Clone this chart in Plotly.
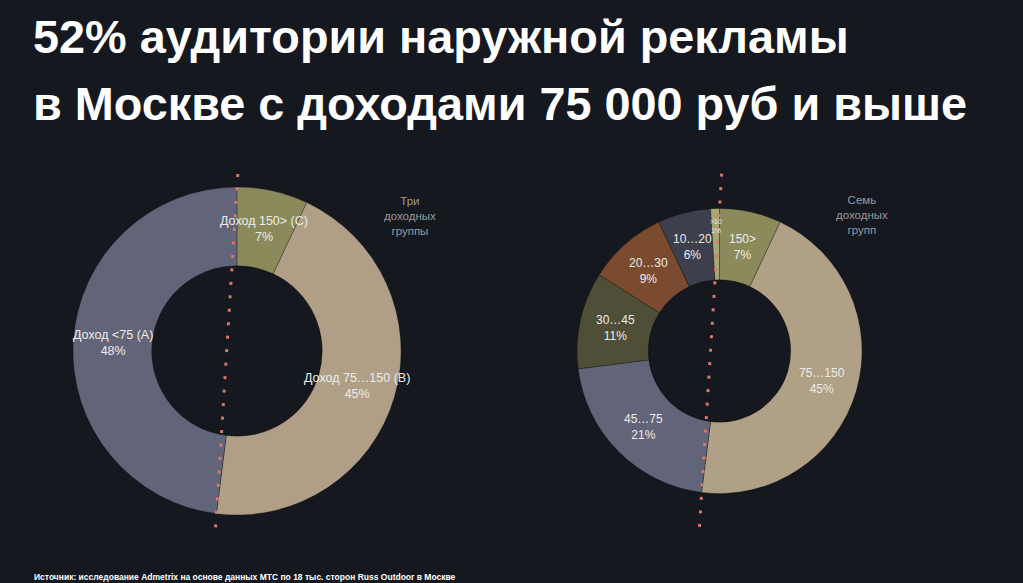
import math
import plotly.graph_objects as go

W, H = 1023, 583
BG = "#15181f"

title_lines = ["52% аудитории наружной рекламы", "в Москве с доходами 75 000 руб и выше"]
source_text = "Источник: исследование Admetrix на основе данных МТС по 18 тыс. сторон Russ Outdoor в Москве"

left_labels = ["Доход 150> (C)", "Доход 75…150 (B)", "Доход <75 (A)"]
left_values = [7, 45, 48]
left_colors = ["#8a8a5b", "#b09f86", "#626479"]
left_note = "Три<br>доходных<br>группы"

right_labels = ["150>", "75…150", "45…75", "30…45", "20…30", "10…20", ">10"]
right_values = [7, 45, 21, 11, 9, 6, 1]
right_colors = ["#8b8a5b", "#afa086", "#626479", "#4e4f36", "#7b4b2f", "#3d3f4d", "#a8a673"]
right_note = "Семь<br>доходных<br>групп"

# geometry (pixels)
LC, LR, LHOLE = (237, 351), 164, 0.52
RC, RR, RHOLE = (719.5, 351), 142.5, 0.50
FONT = "Liberation Sans, Arial"
TXT = "#ececec"


def px(x):
    return x / W


def py(y):
    return 1 - y / H


def domain(c, r):
    return dict(x=[px(c[0] - r), px(c[0] + r)], y=[py(c[1] + r), py(c[1] - r)])


fig = go.Figure()

for labels, values, colors, c, r, hole in [
    (left_labels, left_values, left_colors, LC, LR, LHOLE),
    (right_labels, right_values, right_colors, RC, RR, RHOLE),
]:
    fig.add_trace(go.Pie(
        labels=labels, values=values, hole=hole, sort=False,
        direction="clockwise", rotation=0, domain=domain(c, r),
        marker=dict(colors=colors, line=dict(color="rgba(0,0,0,0.25)", width=1)),
        textinfo="none", showlegend=False, hoverinfo="label+percent",
    ))

annotations = []


def slice_labels(labels, values, c, r, hole, size, small_size):
    tot = sum(values)
    cum = 0
    out = []
    for lab, v in zip(labels, values):
        mid = (cum + v / 2) / tot * 2 * math.pi
        cum += v
        pct = v / tot * 100
        small = pct < 3
        rm = r * (0.88 if small else (1 + hole) / 2)
        cx = c[0] + rm * math.sin(mid)
        cy = c[1] - rm * math.cos(mid)
        fs = small_size if small else size
        out.append(dict(
            x=px(cx), y=py(cy), xref="paper", yref="paper", showarrow=False,
            text=f"{lab}<br>{round(pct)}%", align="center",
            font=dict(family=FONT, size=fs, color=TXT),
            xanchor="center", yanchor="middle",
        ))
    return out


annotations += slice_labels(left_labels, left_values, LC, LR, LHOLE, 12.5, 7)
annotations += slice_labels(right_labels, right_values, RC, RR, RHOLE, 12, 7)

# titles
for txt, yc in zip(title_lines, [37, 104]):
    annotations.append(dict(x=px(30.5), y=py(yc), xref="paper", yref="paper", showarrow=False,
                            text=txt, xanchor="left", yanchor="middle",
                            font=dict(family=FONT, size=46.8, color="white", weight="bold")))

annotations.append(dict(x=px(410), y=py(216), xref="paper", yref="paper", showarrow=False,
                        text=left_note, xanchor="center", yanchor="middle", align="center",
                        font=dict(family=FONT, size=11.5, color="#9a9a9a")))
annotations.append(dict(x=px(862), y=py(215), xref="paper", yref="paper", showarrow=False,
                        text=right_note, xanchor="center", yanchor="middle", align="center",
                        font=dict(family=FONT, size=11.5, color="#9a9a9a")))

annotations.append(dict(x=px(32), y=py(577), xref="paper", yref="paper", showarrow=False,
                        text=source_text, xanchor="left", yanchor="middle",
                        font=dict(family=FONT, size=8.5, color="white", weight="bold")))

# dotted split lines: from the top of the ring to the boundary after the first 52 %
shapes = []
for c, r, vals, ext_top, ext_bot in [(LC, LR, left_values, 13, 16), (RC, RR, right_values, 35, 37)]:
    share = (vals[0] + vals[1]) / sum(vals)
    a = share * 2 * math.pi
    x0, y0 = c[0], c[1] - r
    x1, y1 = c[0] + r * math.sin(a), c[1] - r * math.cos(a)
    dx, dy = x1 - x0, y1 - y0
    L = math.hypot(dx, dy)
    sx, sy = x0 - dx / L * ext_top, y0 - dy / L * ext_top
    ex, ey = x1 + dx / L * ext_bot, y1 + dy / L * ext_bot
    shapes.append(dict(type="line", xref="paper", yref="paper",
                       x0=px(sx), y0=py(sy), x1=px(ex), y1=py(ey),
                       line=dict(color="#d9776a", width=3, dash="3px,10.5px")))

fig.update_layout(
    width=W, height=H, margin=dict(l=0, r=0, t=0, b=0),
    paper_bgcolor=BG, plot_bgcolor=BG,
    annotations=annotations, shapes=shapes, showlegend=False,
)

fig.write_html("out.html")
